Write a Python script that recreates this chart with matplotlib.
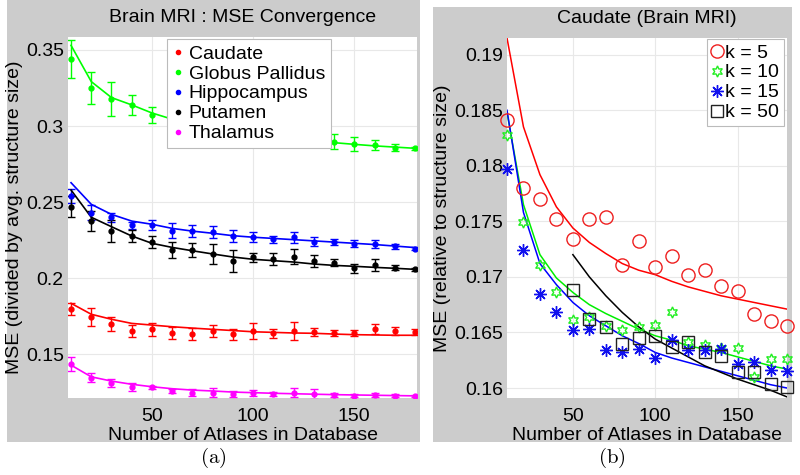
import matplotlib
matplotlib.use("Agg")
import matplotlib.pyplot as plt
from matplotlib.patches import Rectangle
from matplotlib.lines import Line2D

plt.rcParams['font.family'] = ['Liberation Sans', 'DejaVu Sans']
plt.rcParams['mathtext.fontset'] = 'cm'

atlases = [10, 20, 30, 40, 50, 60, 70, 80, 90, 100, 110, 120, 130, 140, 150, 160, 170, 180]

# (a) mean MSE, std and fitted curve per structure
caudate_mean = [0.1796, 0.1744, 0.1700, 0.1656, 0.1665, 0.1639, 0.1632, 0.1654, 0.1633,
                0.1654, 0.1639, 0.1654, 0.1649, 0.1643, 0.1639, 0.1665, 0.1654, 0.1649]
caudate_err = [0.004, 0.006, 0.0043, 0.004, 0.0044, 0.004, 0.004, 0.004, 0.0036,
               0.005, 0.003, 0.0062, 0.0027, 0.002, 0.002, 0.0033, 0.0025, 0.002]
caudate_fit = [0.1836, 0.1764, 0.1731, 0.1704, 0.1693, 0.1682, 0.1673, 0.1665, 0.1657,
               0.1649, 0.1645, 0.1641, 0.1639, 0.1634, 0.1630, 0.1628, 0.1626, 0.1626]

pallidus_mean = [0.3439, 0.3248, 0.3178, 0.3139, 0.3074, 0.304, 0.302, 0.299, 0.297,
                 0.295, 0.294, 0.292, 0.291, 0.2898, 0.2880, 0.2876, 0.2858, 0.2854]
pallidus_err = [0.0125, 0.0104, 0.0113, 0.0066, 0.0053, 0.006, 0.005, 0.006, 0.005,
                0.005, 0.004, 0.005, 0.004, 0.005, 0.0045, 0.003, 0.0025, 0.001]
pallidus_fit = [0.3530, 0.3292, 0.3187, 0.3139, 0.3086, 0.3045, 0.3015, 0.2990, 0.2968,
                0.2950, 0.2933, 0.2917, 0.2902, 0.2891, 0.2880, 0.2870, 0.2862, 0.2854]

hippo_mean = [0.2541, 0.2431, 0.2401, 0.2347, 0.2350, 0.2313, 0.2313, 0.2306, 0.2278,
              0.2269, 0.2256, 0.2269, 0.2241, 0.2237, 0.2228, 0.2225, 0.2210, 0.2194]
hippo_err = [0.0045, 0.005, 0.003, 0.0025, 0.0033, 0.005, 0.004, 0.004, 0.004,
             0.0033, 0.0025, 0.0034, 0.003, 0.002, 0.0025, 0.0025, 0.0015, 0.001]
hippo_fit = [0.2628, 0.2486, 0.2420, 0.2376, 0.2355, 0.2328, 0.2310, 0.2296, 0.2280,
             0.2270, 0.2262, 0.2254, 0.2246, 0.2238, 0.2230, 0.2222, 0.2212, 0.2202]

putamen_mean = [0.2471, 0.2376, 0.2311, 0.2278, 0.2237, 0.2186, 0.2186, 0.2162, 0.2115,
                0.2138, 0.2129, 0.2142, 0.2114, 0.2103, 0.2066, 0.2087, 0.2070, 0.2061]
putamen_err = [0.007, 0.0066, 0.0074, 0.0037, 0.004, 0.0052, 0.0046, 0.0066, 0.0074,
               0.003, 0.004, 0.005, 0.004, 0.0025, 0.003, 0.004, 0.0015, 0.001]
putamen_fit = [0.2580, 0.2401, 0.2339, 0.2278, 0.2230, 0.2203, 0.2181, 0.2160, 0.2140,
               0.2125, 0.2116, 0.2107, 0.2094, 0.2085, 0.2079, 0.2072, 0.2066, 0.2059]

thalamus_mean = [0.1437, 0.1347, 0.1314, 0.1288, 0.1284, 0.1259, 0.1250, 0.1248, 0.1238,
                 0.1244, 0.1240, 0.1248, 0.1240, 0.1235, 0.1230, 0.1233, 0.1230, 0.1226]
thalamus_err = [0.0044, 0.003, 0.0025, 0.0025, 0.0012, 0.0015, 0.002, 0.003, 0.002,
                0.002, 0.0012, 0.003, 0.003, 0.0012, 0.001, 0.0015, 0.001, 0.0008]
thalamus_fit = [0.1430, 0.1353, 0.1325, 0.1304, 0.1288, 0.1275, 0.1266, 0.1260, 0.1253,
                0.1249, 0.1245, 0.1242, 0.1239, 0.1236, 0.1234, 0.1232, 0.1230, 0.1228]

# (b) caudate MSE for several k
k5 = [0.1841, 0.1780, 0.1770, 0.1752, 0.1734, 0.1752, 0.1754, 0.1711, 0.1732,
      0.1709, 0.1719, 0.1702, 0.1706, 0.1692, 0.1687, 0.1667, 0.1660, 0.1656]
k5_fit = [0.1915, 0.1835, 0.1792, 0.1763, 0.1744, 0.1731, 0.1721, 0.1712, 0.1706,
          0.1702, 0.1696, 0.1691, 0.1687, 0.1683, 0.1680, 0.1677, 0.1674, 0.1671]
k10 = [0.1828, 0.1749, 0.1711, 0.1686, 0.1661, 0.1664, 0.1656, 0.1652, 0.1655,
       0.1657, 0.1668, 0.1641, 0.1639, 0.1636, 0.1636, 0.1610, 0.1626, 0.1626]
k10_fit = [0.1848, 0.1765, 0.1720, 0.1699, 0.1686, 0.1675, 0.1667, 0.1660, 0.1653,
           0.1647, 0.1643, 0.1638, 0.1635, 0.1632, 0.1628, 0.1624, 0.1620, 0.1617]
k15 = [0.1797, 0.1724, 0.1685, 0.1668, 0.1652, 0.1653, 0.1634, 0.1632, 0.1635,
       0.1627, 0.1643, 0.1634, 0.1634, 0.1635, 0.1622, 0.1623, 0.1616, 0.1615]
k15_fit = [0.1850, 0.1758, 0.1712, 0.1693, 0.1677, 0.1665, 0.1656, 0.1647, 0.1640,
           0.1632, 0.1627, 0.1623, 0.1619, 0.1615, 0.1611, 0.1607, 0.1603, 0.1600]
atlases_k50 = [50, 60, 70, 80, 90, 100, 110, 120, 130, 140, 150, 160, 170, 180]
k50 = [0.1688, 0.1662, 0.1655, 0.1640, 0.1645, 0.1647, 0.1637, 0.1641, 0.1632,
       0.1629, 0.1614, 0.1614, 0.1604, 0.1601]
k50_fit = [0.1720, 0.1700, 0.1683, 0.1668, 0.1655, 0.1644, 0.1636, 0.1628, 0.1620,
           0.1614, 0.1608, 0.1603, 0.1598, 0.1592]

W, H = 800, 475
fig = plt.figure(figsize=(W / 100, H / 100), dpi=100)

def box(x0, y0, x1, y1):
    # pixel box (top-left origin) -> figure fraction rect
    return [x0 / W, 1 - y1 / H, (x1 - x0) / W, (y1 - y0) / H]

for x0, y0, x1, y1 in [(7, 0, 420, 442), (433, 7, 792, 442)]:
    r = box(x0, y0, x1, y1)
    fig.patches.append(Rectangle((r[0], r[1]), r[2], r[3], transform=fig.transFigure,
                                 facecolor='#cccccc', edgecolor='none', zorder=-10))

ax1 = fig.add_axes(box(68, 37, 417, 398))
ax2 = fig.add_axes(box(507, 38, 787, 398))

for ax in (ax1, ax2):
    ax.set_facecolor('white')
    for s in ax.spines.values():
        s.set_visible(False)
    ax.grid(True, color='#e8e8e8', lw=0.8)
    ax.set_axisbelow(True)
    ax.tick_params(length=0, labelsize=14)
    ax.tick_params(axis='x', pad=7)
    ax.tick_params(axis='y', pad=3)
    ax.set_xticks([50, 100, 150])
    ax.set_xlabel('Number of Atlases in Database', fontsize=14, labelpad=2)

# ---- (a)
structures = [
    ('Caudate', '#ff0000', caudate_mean, caudate_err, caudate_fit),
    ('Globus Pallidus', '#00ff00', pallidus_mean, pallidus_err, pallidus_fit),
    ('Hippocampus', '#0000ff', hippo_mean, hippo_err, hippo_fit),
    ('Putamen', '#000000', putamen_mean, putamen_err, putamen_fit),
    ('Thalamus', '#ff00ff', thalamus_mean, thalamus_err, thalamus_fit),
]
handles = []
for name, col, mean, err, fit in structures:
    ax1.plot(atlases, fit, color=col, lw=1.2)
    ax1.errorbar(atlases, mean, yerr=err, fmt='o', color=col, ms=3.5, elinewidth=1.0,
                 capsize=3, capthick=1.0)
    handles.append(Line2D([], [], ls='none', marker='.', ms=6, color=col, label=name))

ax1.set_xlim(8.5, 181)
ax1.set_ylim(0.1214, 0.3585)
ax1.set_yticks([0.15, 0.2, 0.25, 0.3, 0.35])
ax1.set_yticklabels(['0.15', '0.2', '0.25', '0.3', '0.35'])
ax1.set_ylabel('MSE (divided by avg. structure size)', fontsize=14, labelpad=2)
ax1.set_title('Brain MRI : MSE Convergence', fontsize=14, pad=11)
leg = ax1.legend(handles=handles, loc='upper left', bbox_to_anchor=(0.284, 0.994),
                 borderaxespad=0, fontsize=14, handlelength=0.5, handletextpad=0.3,
                 labelspacing=0.12, borderpad=0.3, fancybox=False, framealpha=1)
leg.get_frame().set_edgecolor('#bbbbbb')
leg.get_frame().set_linewidth(0.8)

# ---- (b)
ax2.plot(atlases, k5_fit, color='#ff0000', lw=1.1)
ax2.plot(atlases, k10_fit, color='#00ee00', lw=1.1)
ax2.plot(atlases, k15_fit, color='#0000ff', lw=1.1)
ax2.plot(atlases_k50, k50_fit, color='#000000', lw=1.1)
m5, = ax2.plot(atlases, k5, ls='none', marker='o', ms=9.5, mfc='none', mec='#ee2020',
               mew=1.0, clip_on=False, label='k = 5')
m10, = ax2.plot(atlases, k10, ls='none', marker=(6, 1, 0), ms=8, mfc='none', mec='#22ee22',
                mew=1.0, clip_on=False, label='k = 10')
m15, = ax2.plot(atlases, k15, ls='none', marker=(8, 2, 0), ms=9, color='#1010ee',
                mew=1.0, clip_on=False, label='k = 15')
m50, = ax2.plot(atlases_k50, k50, ls='none', marker='s', ms=8, mfc='none', mec='#222222',
                mew=1.0, clip_on=False, label='k = 50')

ax2.set_xlim(10, 180)
ax2.set_ylim(0.1591, 0.1915)
ax2.set_yticks([0.16, 0.165, 0.17, 0.175, 0.18, 0.185, 0.19])
ax2.set_yticklabels(['0.16', '0.165', '0.17', '0.175', '0.18', '0.185', '0.19'])
ax2.set_ylabel('MSE (relative to structure size)', fontsize=14, labelpad=2)
ax2.set_title('Caudate (Brain MRI)', fontsize=14, pad=11)
leg2 = ax2.legend(handles=[m5, m10, m15, m50], loc='upper right',
                  bbox_to_anchor=(0.989, 0.997), borderaxespad=0, fontsize=14,
                  handlelength=0.6, handletextpad=0.1, labelspacing=0.12,
                  borderpad=0.25, fancybox=False, framealpha=1)
leg2.get_frame().set_edgecolor('#bbbbbb')
leg2.get_frame().set_linewidth(0.8)

fig.text(213 / W, 1 - 458 / H, r'$\mathrm{(a)}$', fontsize=15, ha='center', va='center')
fig.text(612 / W, 1 - 458 / H, r'$\mathrm{(b)}$', fontsize=15, ha='center', va='center')

fig.savefig('out.png', dpi=100)
